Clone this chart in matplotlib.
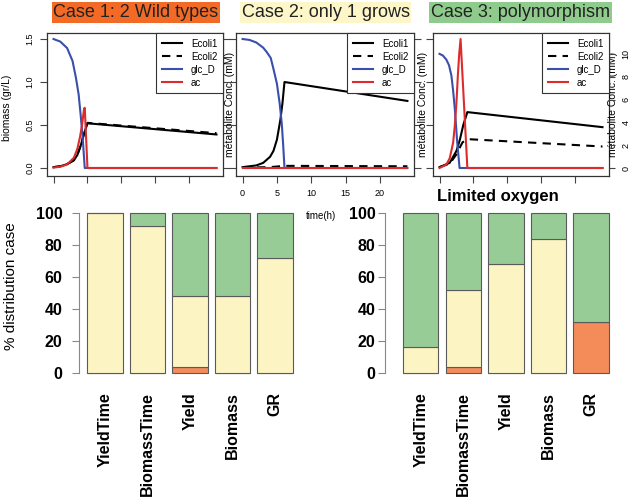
import matplotlib
matplotlib.use("Agg")
import matplotlib.pyplot as plt
import numpy as np

plt.rcParams["font.family"] = ["Liberation Sans", "DejaVu Sans"]

# ---- time courses (biomass gr/L, metabolites mM) ----
c1_bio_t = [0, 1, 2, 3, 3.5, 4.0, 4.5, 5.0, 24]
c1_ecoli1 = [0.01, 0.02, 0.045, 0.09, 0.15, 0.26, 0.40, 0.52, 0.39]
c1_ecoli2 = [0.01, 0.02, 0.045, 0.09, 0.15, 0.26, 0.40, 0.525, 0.405]
c1_glc_t = [0, 1, 2, 2.8, 3.3, 3.7, 4.0, 4.3, 4.6, 24]
c1_glc = [10, 9.8, 9.3, 8.3, 7.0, 5.7, 4.1, 2.3, 0, 0]
c1_ac_t = [0, 1, 2, 3, 3.5, 3.9, 4.2, 4.5, 4.6, 5.0, 24]
c1_ac = [0.03, 0.1, 0.27, 0.8, 1.47, 2.4, 3.33, 4.6, 4.67, 0, 0]

c2_e1_t = [0, 2, 3, 4, 4.5, 5.0, 5.5, 5.8, 6.1, 24]
c2_ecoli1 = [0.01, 0.03, 0.06, 0.13, 0.20, 0.33, 0.56, 0.75, 1.0, 0.78]
c2_e2_t = [0, 4, 6.1, 24]
c2_ecoli2 = [0.005, 0.01, 0.025, 0.02]
c2_glc_t = [0, 1, 2, 3, 3.5, 4.1, 4.5, 5.0, 5.4, 5.7, 5.9, 6.1, 24]
c2_glc = [10, 9.93, 9.73, 9.33, 9.0, 8.53, 7.67, 6.53, 5.0, 3.47, 1.87, 0, 0]
c2_ac_t = [0, 24]
c2_ac = [0, 0]

c3_e1_t = [0, 1.5, 2.5, 3.0, 3.5, 4.1, 24]
c3_ecoli1 = [0.01, 0.06, 0.20, 0.33, 0.50, 0.65, 0.475]
c3_e2_t = [0, 1.5, 2.5, 3.0, 3.4, 4.3, 24]
c3_ecoli2 = [0.01, 0.05, 0.16, 0.24, 0.30, 0.335, 0.25]
c3_glc_t = [0, 0.5, 1.0, 1.4, 1.75, 2.0, 2.25, 2.6, 2.8, 2.95, 24]
c3_glc = [10, 9.85, 9.5, 9.0, 8.1, 6.8, 5.2, 2.3, 1.0, 0, 0]
c3_ac_t = [0, 1.0, 1.5, 2.0, 2.25, 2.5, 2.7, 2.9, 3.1, 4.1, 24]
c3_ac = [0, 0.3, 0.85, 2.2, 3.7, 5.8, 8.1, 10.0, 11.3, 0, 0]

# ---- distribution of cases (bottom panels) ----
criteria = ["YieldTime", "BiomassTime", "Yield", "Biomass", "GR"]
normal_case1 = [0, 0, 4, 0, 0]
normal_case2 = [100, 92, 44, 48, 72]
normal_case3 = [0, 8, 52, 52, 28]
limited_case1 = [0, 4, 0, 0, 32]
limited_case2 = [16, 48, 68, 84, 0]
limited_case3 = [84, 48, 32, 16, 68]

col_case1 = "#F48C5A"
col_case2 = "#FCF5C3"
col_case3 = "#98CC96"
blue = "#3A4FAA"
red = "#DD2B2B"

W, H = 633, 500
fig = plt.figure(figsize=(W / 100, H / 100), dpi=100)


def rect(left, right, top, bottom):
    return [left / W, 1 - bottom / H, (right - left) / W, (bottom - top) / H]


bio_lim = (-0.093, 1.57)


def top_panel(r, e1, e2, glc, ac, xlabels, left_axis, met_ticks, met_x):
    ax = fig.add_axes(r)
    l1, = ax.plot(e1[0], e1[1], color="black", lw=1.5, label="Ecoli1")
    l2, = ax.plot(e2[0], e2[1], color="black", lw=1.5, ls=(0, (4, 3)), label="Ecoli2")
    ax.set_xlim(-0.96, 24.96)
    ax.set_ylim(*bio_lim)
    ax.set_xticks([0, 5, 10, 15, 20])
    ax.set_yticks([0, 0.5, 1.0, 1.5])
    ax.tick_params(direction="out", length=5, width=0.8, color="#444444",
                   labelsize=6.5, pad=4)
    if not xlabels:
        ax.tick_params(axis="x", labelbottom=False)
    if left_axis:
        ax.set_yticklabels(["0.0", "0.5", "1.0", "1.5"], rotation=90, va="center")
        ax.set_ylabel("biomass (gr/L)", fontsize=7.5)
        ax.yaxis.set_label_coords(-0.2, 0.48)
    else:
        ax.tick_params(axis="y", left=False, labelleft=False)
    for s in ax.spines.values():
        s.set_linewidth(0.9)
        s.set_color("#333333")

    m = max(max(glc[1]), max(ac[1]))
    ax2 = ax.twinx()
    l3, = ax2.plot(glc[0], glc[1], color=blue, lw=1.5, label="glc_D")
    l4, = ax2.plot(ac[0], ac[1], color=red, lw=1.5, label="ac")
    ax2.set_ylim(bio_lim[0] * m / 1.5, bio_lim[1] * m / 1.5)
    if met_ticks:
        ax2.set_yticks(met_ticks)
        ax2.tick_params(direction="out", length=4, width=0.8, color="#444444",
                        labelsize=6.5, pad=5)
        for lab in ax2.get_yticklabels():
            lab.set_rotation(90)
            lab.set_va("center")
    else:
        ax2.set_yticks([])
        ax.tick_params(axis="y", right=True)
    for s in ax2.spines.values():
        s.set_visible(False)
    ax.text(met_x, 0.5, "métabolite Conc. (mM)", transform=ax.transAxes,
            rotation=90, ha="center", va="center", fontsize=7.5)
    leg = ax2.legend(handles=[l1, l2, l3, l4], loc="upper right", borderaxespad=0,
                     fontsize=7, fancybox=False, framealpha=1, edgecolor="#333333",
                     handlelength=2.1, handletextpad=0.9, labelspacing=0.3,
                     borderpad=0.6)
    leg.get_frame().set_linewidth(0.8)
    return ax


top_panel(rect(47, 223, 33, 176), (c1_bio_t, c1_ecoli1), (c1_bio_t, c1_ecoli2),
          (c1_glc_t, c1_glc), (c1_ac_t, c1_ac), False, True, None, 1.04)
top_panel(rect(236, 414, 33, 176), (c2_e1_t, c2_ecoli1), (c2_e2_t, c2_ecoli2),
          (c2_glc_t, c2_glc), (c2_ac_t, c2_ac), True, False, None, 1.05)
top_panel(rect(433, 609, 33, 176), (c3_e1_t, c3_ecoli1), (c3_e2_t, c3_ecoli2),
          (c3_glc_t, c3_glc), (c3_ac_t, c3_ac), False, False, [0, 2, 4, 6, 8, 10], 1.023)

fig.text(321 / W, 1 - 216 / H, "time(h)", fontsize=7, ha="center", va="center")

box = dict(boxstyle="square,pad=0.1", lw=0)
fig.text(136 / W, 1 - 12.5 / H, "Case 1: 2 Wild types", fontsize=13, ha="center",
         va="center", color="#222222", bbox=dict(box, fc="#F26A25"))
fig.text(325.5 / W, 1 - 12.5 / H, "Case 2: only 1 grows", fontsize=13, ha="center",
         va="center", color="#222222", bbox=dict(box, fc="#FCF6C8"))
fig.text(520.5 / W, 1 - 12.5 / H, "Case 3: polymorphism", fontsize=13, ha="center",
         va="center", color="#222222", bbox=dict(box, fc="#8FCB8C"))


def bar_panel(r, xlo, c1, c2, c3, pad):
    ax = fig.add_axes(r)
    pos = [0.7 + 1.2 * i for i in range(len(criteria))]
    c1 = np.array(c1)
    c2 = np.array(c2)
    c3 = np.array(c3)
    kw = dict(width=1, edgecolor="#5a5a5a", linewidth=0.8)
    ax.bar(pos, c1, color=col_case1, **kw)
    ax.bar(pos, c2, bottom=c1, color=col_case2, **kw)
    ax.bar(pos, c3, bottom=c1 + c2, color=col_case3, **kw)
    ax.set_xlim(xlo, 6.232)
    ax.set_ylim(-4, 104)
    for s in ["top", "right", "bottom"]:
        ax.spines[s].set_visible(False)
    ax.spines["left"].set_bounds(0, 100)
    ax.spines["left"].set_color("#888888")
    ax.set_yticks([0, 20, 40, 60, 80, 100])
    ax.tick_params(axis="y", length=5, width=0.8, color="#888888", pad=pad,
                   labelsize=11.5)
    for lab in ax.get_yticklabels():
        lab.set_fontweight("bold")
    ax.set_xticks(pos)
    ax.set_xticklabels(criteria, rotation=90, fontsize=11.5, fontweight="bold")
    ax.tick_params(axis="x", length=0, pad=9)
    return ax


axl = bar_panel(rect(79, 301, 206.6, 379.4), -0.032,
                normal_case1, normal_case2, normal_case3, 7)
axl.set_ylabel("% distribution case", fontsize=11)
axl.yaxis.set_label_coords(-0.275, 0.54)
axr = bar_panel(rect(385, 617, 206.6, 379.4), -0.307,
                limited_case1, limited_case2, limited_case3, 2)
fig.text(498 / W, 1 - 197 / H, "Limited oxygen", fontsize=12, fontweight="bold",
         ha="center", va="center")

fig.savefig("out.png", dpi=100)
